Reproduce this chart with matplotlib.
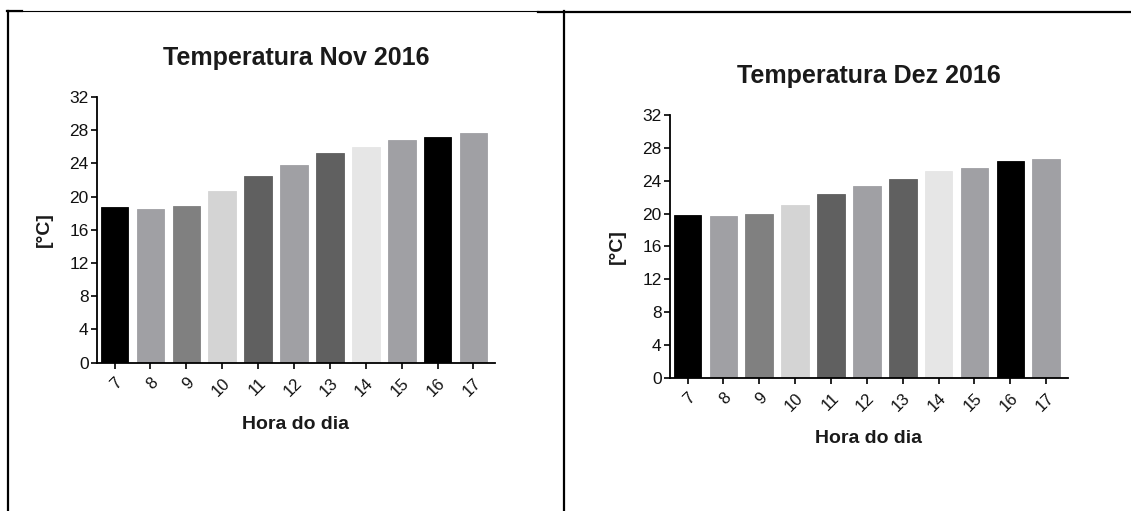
import numpy as np
import matplotlib
matplotlib.use('Agg')
import matplotlib.pyplot as plt
from matplotlib.lines import Line2D

# data
horas = ['7', '8', '9', '10', '11', '12', '13', '14', '15', '16', '17']
temp_nov = [18.7, 18.5, 18.9, 20.7, 22.5, 23.8, 25.2, 26.0, 26.8, 27.2, 27.7]
temp_dez = [19.8, 19.7, 19.9, 21.0, 22.4, 23.3, 24.2, 25.2, 25.6, 26.4, 26.6]
cores = ['#000000', '#a0a0a4', '#808080', '#d4d4d4', '#606060', '#a0a0a4',
         '#606060', '#e6e6e6', '#a0a0a4', '#000000', '#a0a0a4']

plt.rcParams['font.family'] = ['Liberation Sans', 'DejaVu Sans']

W, H = 1131, 511
fig = plt.figure(figsize=(W / 100, H / 100), dpi=100)


def px_axes(x0, y_top, x1, y_bot):
    return fig.add_axes([x0 / W, 1 - y_bot / H, (x1 - x0) / W, (y_bot - y_top) / H])


def desenha(ax, valores, titulo):
    x = np.arange(len(horas))
    ax.bar(x, valores, width=0.77, color=cores, edgecolor=cores, linewidth=0.6)
    ax.set_xlim(-0.49, 10.6)
    ax.set_ylim(0, 32)
    ax.set_yticks(np.arange(0, 33, 4))
    ax.set_xticks(x)
    ax.set_xticklabels(horas, rotation=45, ha='right', rotation_mode='anchor',
                       fontsize=12, color='#111111')
    ax.tick_params(axis='y', labelsize=12.5, length=4, width=1.2, pad=2,
                   labelcolor='#111111')
    ax.tick_params(axis='x', length=4, width=1.2, pad=5)
    for s in ['top', 'right']:
        ax.spines[s].set_visible(False)
    for s in ['left', 'bottom']:
        ax.spines[s].set_linewidth(1.3)
    ax.set_title(titulo, fontsize=18, fontweight='bold', color='#1a1a1a', pad=23)
    ax.set_xlabel('Hora do dia', fontsize=14, fontweight='bold', color='#1a1a1a')
    ax.set_ylabel('[°C]', fontsize=14, fontweight='bold', color='#1a1a1a')
    ax.xaxis.set_label_coords(0.5, -0.2)
    ax.yaxis.set_label_coords(-0.11, 0.5)


ax1 = px_axes(97, 97, 495, 362.7)
desenha(ax1, temp_nov, 'Temperatura Nov 2016')

ax2 = px_axes(670, 115, 1067.7, 377.7)
desenha(ax2, temp_dez, 'Temperatura Dez 2016')

# table frame around the two charts
def linha(xs, ys, lw):
    fig.add_artist(Line2D([v / W for v in xs], [1 - v / H for v in ys],
                          color='black', linewidth=lw, transform=fig.transFigure))

linha([8, 8], [11, 511], 1.6)
linha([563.5, 563.5], [11, 511], 1.6)
linha([8, 538], [11.5, 11.5], 0.8)
linha([7, 22], [11.5, 11.5], 1.6)
linha([538, 1131], [12, 12], 1.6)

fig.savefig('out.png', dpi=100)
